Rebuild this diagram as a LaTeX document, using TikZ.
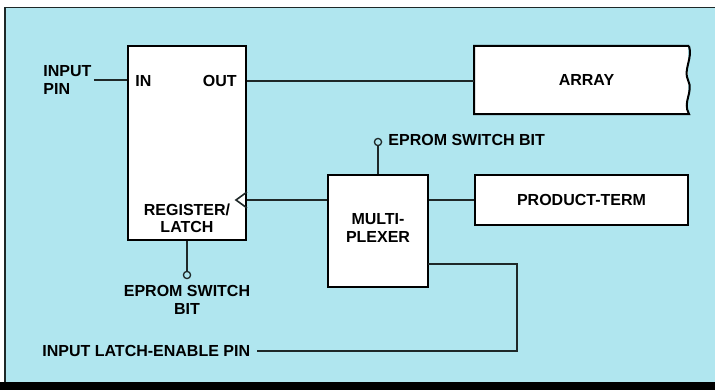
\documentclass[tikz,border=0pt]{standalone}
\usepackage{fontspec}
\setmainfont{Liberation Sans}
\usepackage{tikz}
\usetikzlibrary{positioning,calc}
\definecolor{panelcyan}{RGB}{176,230,239}
\definecolor{inkdark}{RGB}{30,40,40}
\tikzset{
  blk/.style   ={rectangle,draw=black,line width=1pt,fill=white,inner sep=0pt},
  wire/.style  ={inkdark,line width=0.65pt},
  txt/.style   ={font=\fontsize{8}{8.6}\selectfont\bfseries,inner sep=1pt,text=black},
  swbit/.style ={circle,draw=inkdark,line width=0.65pt,fill=panelcyan,minimum size=3.6pt,inner sep=0pt},
}

\begin{document}
\begin{tikzpicture}[x=0.5pt,y=-0.5pt]
  \useasboundingbox (0,0) rectangle (715,390);
  % panel
  \fill[panelcyan] (5,7) rectangle (715,383);
  \draw[inkdark,line width=0.7pt] (5,383) -- (5,7.5) -- (715,7.5);
  \fill[black] (0,382) rectangle (715,390);

  % blocks
  \node[blk,minimum width=59pt,minimum height=97pt] (reg) at (187,143) {};
  \node[blk,draw=none,minimum width=106.5pt,minimum height=33pt] (array) at (581.5,80) {};
  \node[blk,minimum width=50pt,minimum height=56pt] (mux) at (378,231) {};
  \node[blk,minimum width=106.5pt,minimum height=25pt,txt] (pterm) at (581.5,200) {PRODUCT-TERM};
  % array outline, torn right edge
  \draw[line width=1pt] (array.north east) -- (array.north west) -- (array.south west) -- (array.south east)
     .. controls (682,102) and (694,92) .. (688,80) .. controls (683,70) and (693,58) .. (array.north east);
  \node[txt] at ($(array)+(5,0)$) {ARRAY};

  % texts
  \node[txt,anchor=west] (in) at (133,81) {IN};
  \node[txt,anchor=east] (out) at (239,81) {OUT};
  \node[txt,align=left,anchor=west] (inpin) at (41,80) {INPUT\\PIN};
  \node[txt,align=center] (reglbl) at (187,218.5) {REGISTER/\\LATCH};
  \node[txt,align=center] (muxlbl) at (378,228) {MULTI-\\PLEXER};
  \node[swbit] (bitA) at (187,275) {};
  \node[txt,align=center,below=2pt of bitA] (bitAtxt) {EPROM SWITCH\\BIT};
  \node[swbit] (bitB) at (378,142) {};
  \node[txt,anchor=west] (bitBtxt) at (386,140) {EPROM SWITCH BIT};
  \node[txt,anchor=west] (lepin) at (40,351) {INPUT LATCH-ENABLE PIN};
  \coordinate (mux2) at (428,264);
  \coordinate (turn) at (517,264);

  % clock input
  \draw[wire,line width=0.8pt] (reg.east |- 0,192) -- ++(-11,8) -- ++(11,8);

  % connectors
  \draw[wire] (inpin.east) -- (inpin.east -| reg.west);
  \draw[wire] (reg.east |- out) -- (array.west |- out);
  \draw[wire] (reg.east |- 0,200) -- (mux.west |- 0,200);
  \draw[wire] (mux.east |- pterm) -- (pterm.west);
  \draw[wire] (reg.south) -- (bitA.north);
  \draw[wire] (bitB.south) -- (bitB |- mux.north);
  \draw[wire] (mux2) -- (turn) |- ($(lepin.east)+(4,0)$);
\end{tikzpicture}
\end{document}
